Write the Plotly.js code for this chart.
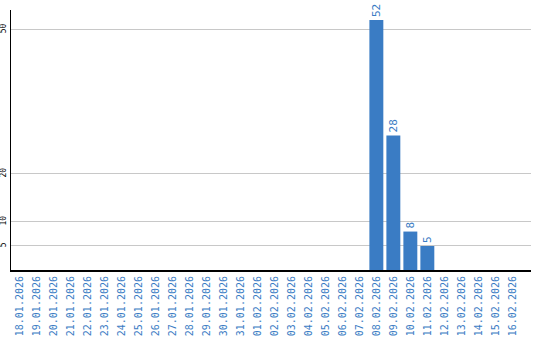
<!DOCTYPE html>
<html>
<head>
<meta charset="utf-8">
<script src="https://cdn.plot.ly/plotly-3.0.1.min.js"></script>
<style>html,body{margin:0;padding:0;background:#fff}#chart{width:540px;height:340px}</style>
</head>
<body>
<div id="chart"></div>
<script>
const dates = ["18.01.2026","19.01.2026","20.01.2026","21.01.2026","22.01.2026","23.01.2026","24.01.2026","25.01.2026","26.01.2026","27.01.2026","28.01.2026","29.01.2026","30.01.2026","31.01.2026","01.02.2026","02.02.2026","03.02.2026","04.02.2026","05.02.2026","06.02.2026","07.02.2026","08.02.2026","09.02.2026","10.02.2026","11.02.2026","12.02.2026","13.02.2026","14.02.2026","15.02.2026","16.02.2026"];
const counts = [null,null,null,null,null,null,null,null,null,null,null,null,null,null,null,null,null,null,null,null,null,52,28,8,5,null,null,null,null,null];
const yTicks = [5,10,20,50];

const blue = "#3a7cc4";
Plotly.newPlot("chart", [{
  type: "bar",
  x: dates.map((d, i) => i),
  y: counts,
  marker: {color: blue},
  width: 0.82,
  text: counts.map(v => v == null ? "" : String(v)),
  textposition: "outside",
  textangle: -90,
  textfont: {family: "DejaVu Sans Mono", size: 11, color: blue},
  cliponaxis: false,
  hoverinfo: "none"
}], {
  width: 540, height: 340,
  margin: {l: 11, r: 9, t: 10, b: 70, pad: 0},
  paper_bgcolor: "#fff", plot_bgcolor: "#fff",
  showlegend: false,
  bargap: 0.18,
  xaxis: {
    type: "linear",
    range: [-0.5, 30.1],
    tickmode: "array",
    tickvals: dates.map((d, i) => i),
    ticktext: dates,
    tickangle: -90,
    tickfont: {family: "DejaVu Sans Mono", size: 10, color: blue},
    showgrid: false, zeroline: false,
    showline: true, linecolor: "#000", linewidth: 2,
    ticks: "", ticklen: 0
  },
  yaxis: {
    range: [0, 54.1],
    tickmode: "array",
    tickvals: yTicks,
    ticktext: yTicks.map(String),
    tickangle: -90,
    ticklabelstandoff: 0,
    tickfont: {family: "DejaVu Sans Mono", size: 8, color: "#000"},
    showgrid: true, gridcolor: "#c8c8c8", gridwidth: 1,
    zeroline: false,
    showline: true, linecolor: "#000", linewidth: 1.5,
    ticks: ""
  }
}, {staticPlot: true, displayModeBar: false});
</script>
</body>
</html>
